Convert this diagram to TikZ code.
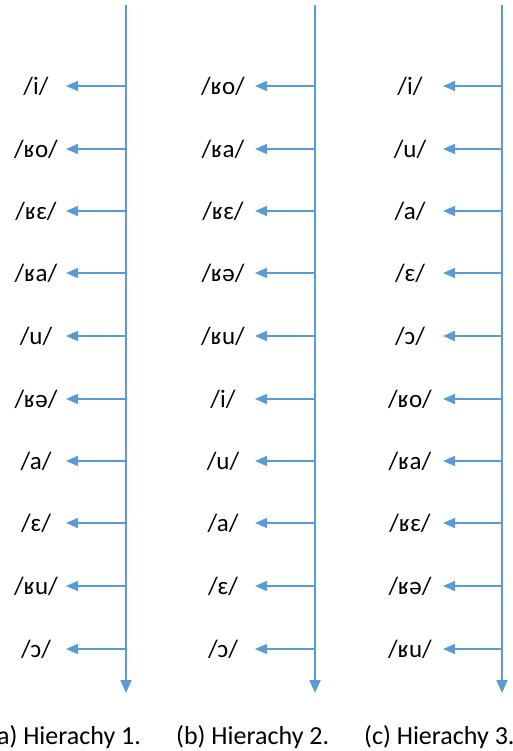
\documentclass[tikz,border=0pt]{standalone}
\usepackage{fontspec}
\setmainfont{Carlito}
\usetikzlibrary{arrows.meta}
\definecolor{lineblue}{HTML}{5B9BD5}
\tikzset{
  axisline/.style={draw=lineblue, line width=2pt, -{Triangle[length=13pt,width=11pt]}},
  arr/.style={draw=lineblue, line width=1.6pt, -{Triangle[length=12pt,width=10pt]}},
  lbl/.style={font=\fontsize{25}{29}\selectfont, inner sep=0pt},
  captxt/.style={font=\fontsize{26}{30}\selectfont, inner sep=0pt, anchor=west},
}
\begin{document}
\begin{tikzpicture}[x=1pt,y=-1pt]
\useasboundingbox (0,0) rectangle (513,751);
\clip (0,0) rectangle (513,751);
\def\ys{{86,149,211,273,336,399,461,523,586,649}}
% column definitions: name, line x, tip x, label x, labels
\foreach \c/\lx/\tx/\tlx/\labs in {
  a/126/66/36/{/i/,/ʁo/,/ʁɛ/,/ʁa/,/u/,/ʁə/,/a/,/ɛ/,/ʁu/,/ɔ/},
  b/315/255/223/{/ʁo/,/ʁa/,/ʁɛ/,/ʁə/,/ʁu/,/i/,/u/,/a/,/ɛ/,/ɔ/},
  c/502/443/410/{/i/,/u/,/a/,/ɛ/,/ɔ/,/ʁo/,/ʁa/,/ʁɛ/,/ʁə/,/ʁu/}}{
  \coordinate (\c-top) at (\lx,5);
  \coordinate (\c-bot) at (\lx,693);
  \draw[axisline] (\c-top) -- (\c-bot);
  \foreach \t [count=\i from 0] in \labs {
    \pgfmathsetmacro{\yy}{\ys[\i]}
    \coordinate (\c-r\i) at (\lx,\yy);
    \coordinate (\c-t\i) at (\tx,\yy);
    \node[lbl] (\c-l\i) at (\tlx,\yy) {\t};
    \draw[arr] (\c-r\i) -- (\c-t\i);
  }
}
\node[captxt] (capa) at (-11,737) {(a) Hierachy 1.};
\node[captxt] (capb) at (176,737) {(b) Hierachy 2.};
\node[captxt] (capc) at (364,737) {(c) Hierachy 3.};
\end{tikzpicture}
\end{document}
